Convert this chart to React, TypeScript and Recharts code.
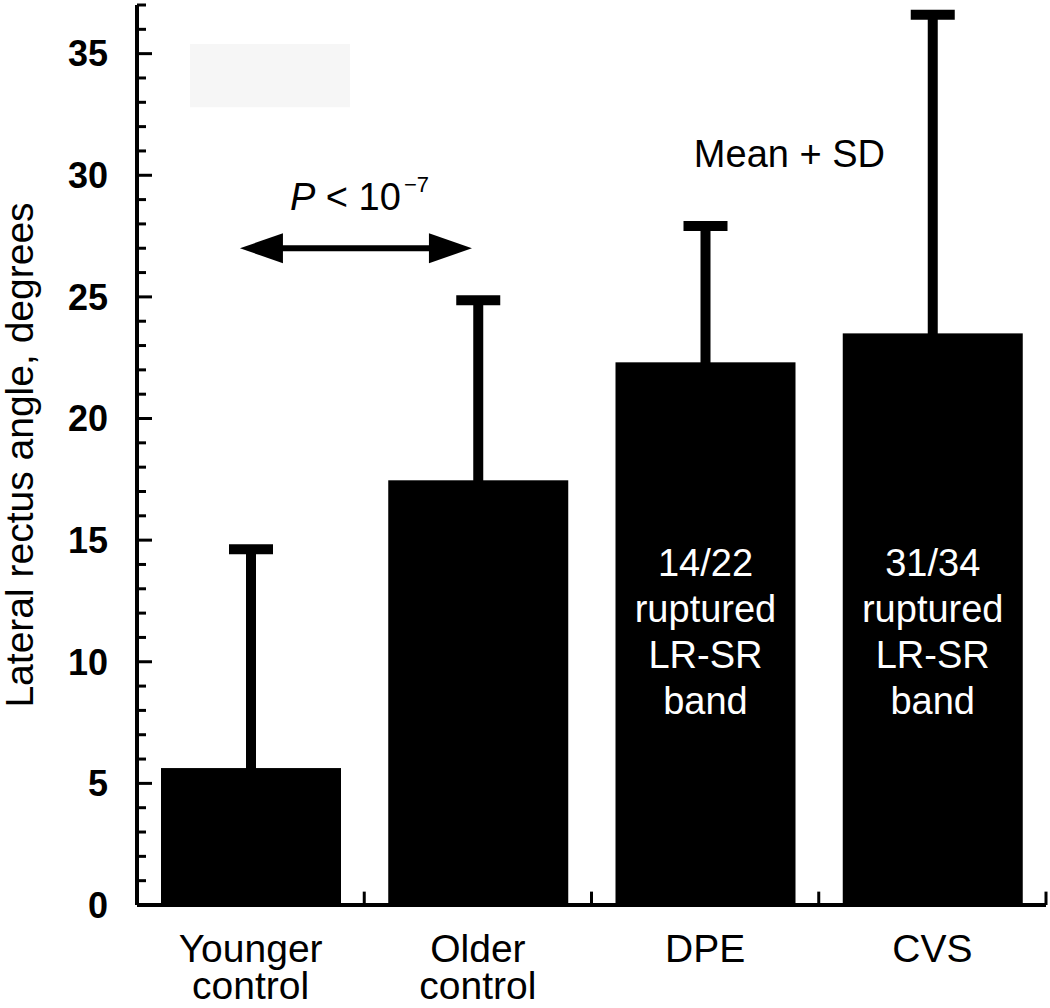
import {
  Bar,
  BarChart,
  ErrorBar,
  ReferenceArea,
  ReferenceDot,
  ReferenceLine,
  XAxis,
  YAxis,
} from "recharts";

const FONT = "'Liberation Sans', Arial, sans-serif";

// groups, means and upward SD
const GROUPS = ["Younger\ncontrol", "Older\ncontrol", "DPE", "CVS"];
const POSITIONS = [0, 1, 2, 3];
const MEANS = [5.63, 17.46, 22.31, 23.5];
const SDS = [9.0, 7.4, 5.6, 13.1];
const BAR_NOTES = [
  [],
  [],
  ["14/22", "ruptured", "LR-SR", "band"],
  ["31/34", "ruptured", "LR-SR", "band"],
];

const Y_MAJOR = [0, 5, 10, 15, 20, 25, 30, 35];
const Y_MINOR = [
  0, 1, 2, 3, 4, 5, 6, 7, 8, 9, 10, 11, 12, 13, 14, 15, 16, 17, 18, 19, 20,
  21, 22, 23, 24, 25, 26, 27, 28, 29, 30, 31, 32, 33, 34, 35, 36, 37,
];
// small upward ticks between the groups on the x axis
const BAND_EDGES = [0.5, 1.5, 2.5, 3.5];
const EDGE_TICK_TOP = 0.55;

// "Mean + SD" only: the lower arm of the error bar is tucked inside the bar
const HIDDEN_LOW = 0.6;

// annotation anchors, in (group position, degrees) units
const ARROW_FROM = { x: -0.047, y: 27 };
const ARROW_TO = { x: 0.974, y: 27 };
const P_TEXT_AT = { x: 0.173, y: 28.58 };
const MEAN_SD_AT = { x: 2.371, y: 30.35 };
const FAINT_BOX = { x1: -0.267, x2: 0.437, y1: 32.8, y2: 35.4 };

const data = POSITIONS.map((p, i) => ({
  pos: p,
  mean: MEANS[i],
  sd: [HIDDEN_LOW, SDS[i]],
  notes: BAR_NOTES[i],
}));

function GroupTick({ x, y, payload }: any) {
  const label = GROUPS[Math.round(payload.value)] ?? "";
  const lines = label.split("\n");
  return (
    <text x={x} y={y} textAnchor="middle" fontSize={39} fill="#000" fontFamily={FONT}>
      {lines.map((l, i) => (
        <tspan key={i} x={x} dy={i === 0 ? 57 : 37}>
          {l}
        </tspan>
      ))}
    </text>
  );
}

function DegreeTick({ x, y, payload }: any) {
  const major = Y_MAJOR.includes(payload.value);
  return (
    <g>
      <line x1={x} y1={y} x2={x + (major ? 15 : 9)} y2={y} stroke="#000" strokeWidth={3} />
      {major && (
        <text
          x={x - 29}
          y={y}
          dy="0.355em"
          textAnchor="end"
          fontSize={36}
          fontWeight={700}
          fill="#000"
          fontFamily={FONT}
        >
          {payload.value}
        </text>
      )}
    </g>
  );
}

function NotedBar(props: any) {
  const { x, y, width, height, index } = props;
  const notes: string[] = props.payload?.notes ?? BAR_NOTES[index] ?? [];
  const cx = x + width / 2;
  const bottom = y + height;
  return (
    <g>
      <rect x={x} y={y} width={width} height={height} fill="#000" />
      {notes.length > 0 && (
        <text x={cx} y={bottom - 329} textAnchor="middle" fill="#fff" fontSize={38} fontFamily={FONT}>
          {notes.map((n, i) => (
            <tspan key={i} x={cx} dy={i === 0 ? 0 : 46}>
              {n}
            </tspan>
          ))}
        </text>
      )}
    </g>
  );
}

function DoubleArrow(props: any) {
  const { x1, y1, x2 } = props;
  const head = 43;
  const half = 15;
  return (
    <g>
      <line x1={x1 + head - 2} y1={y1} x2={x2 - head + 2} y2={y1} stroke="#000" strokeWidth={6} />
      <path d={`M${x1},${y1} L${x1 + head},${y1 - half} L${x1 + head},${y1 + half} Z`} fill="#000" />
      <path d={`M${x2},${y1} L${x2 - head},${y1 - half} L${x2 - head},${y1 + half} Z`} fill="#000" />
    </g>
  );
}

function YLabel(props: any) {
  const vb = props.viewBox;
  const cx = vb.x + 33;
  const cy = vb.y + vb.height / 2;
  return (
    <text
      x={cx}
      y={cy}
      transform={`rotate(-90 ${cx} ${cy})`}
      textAnchor="middle"
      fontSize={39}
      fill="#000"
      fontFamily={FONT}
    >
      Lateral rectus angle, degrees
    </text>
  );
}

export default function App() {
  return (
    <div style={{ width: 1050, height: 1008, background: "#fff" }}>
      <style>{"body{margin:0}"}</style>
      <BarChart
        width={1050}
        height={1008}
        data={data}
        margin={{ top: 5, right: 4, bottom: 0, left: 0 }}
      >
        <ReferenceArea
          x1={FAINT_BOX.x1}
          x2={FAINT_BOX.x2}
          y1={FAINT_BOX.y1}
          y2={FAINT_BOX.y2}
          fill="#f6f6f6"
          fillOpacity={1}
          stroke="none"
        />
        <XAxis
          dataKey="pos"
          type="number"
          domain={[-0.5, 3.5]}
          allowDataOverflow
          ticks={POSITIONS}
          interval={0}
          height={103}
          axisLine={{ stroke: "#000", strokeWidth: 4 }}
          tickLine={false}
          tickSize={0}
          tickMargin={0}
          tick={<GroupTick />}
        />
        <YAxis
          width={137}
          domain={[0, 37]}
          allowDataOverflow
          ticks={Y_MINOR}
          interval={0}
          tickLine={false}
          tickSize={0}
          tickMargin={0}
          axisLine={{ stroke: "#000", strokeWidth: 4 }}
          tick={<DegreeTick />}
          label={YLabel}
        />
        <Bar dataKey="mean" barSize={180} shape={NotedBar} isAnimationActive={false}>
          <ErrorBar
            dataKey="sd"
            direction="y"
            width={22}
            strokeWidth={10}
            stroke="#000"
            isAnimationActive={false}
          />
        </Bar>
        {BAND_EDGES.map((e) => (
          <ReferenceLine
            key={e}
            segment={[
              { x: e, y: 0 },
              { x: e, y: EDGE_TICK_TOP },
            ]}
            stroke="#000"
            strokeWidth={3}
            ifOverflow="visible"
          />
        ))}
        <ReferenceLine segment={[ARROW_FROM, ARROW_TO]} shape={DoubleArrow} ifOverflow="visible" />
        <ReferenceDot
          x={P_TEXT_AT.x}
          y={P_TEXT_AT.y}
          r={0}
          ifOverflow="visible"
          shape={(p: any) => (
            <text x={p.cx} y={p.cy} fontSize={38} fill="#000" fontFamily={FONT}>
              <tspan fontStyle="italic">P</tspan>
              <tspan>{" < 10"}</tspan>
              <tspan fontSize={22} dy={-18} dx={3}>
                −7
              </tspan>
            </text>
          )}
        />
        <ReferenceDot
          x={MEAN_SD_AT.x}
          y={MEAN_SD_AT.y}
          r={0}
          ifOverflow="visible"
          shape={(p: any) => (
            <text x={p.cx} y={p.cy} textAnchor="middle" fontSize={38} fill="#000" fontFamily={FONT}>
              Mean + SD
            </text>
          )}
        />
      </BarChart>
    </div>
  );
}
